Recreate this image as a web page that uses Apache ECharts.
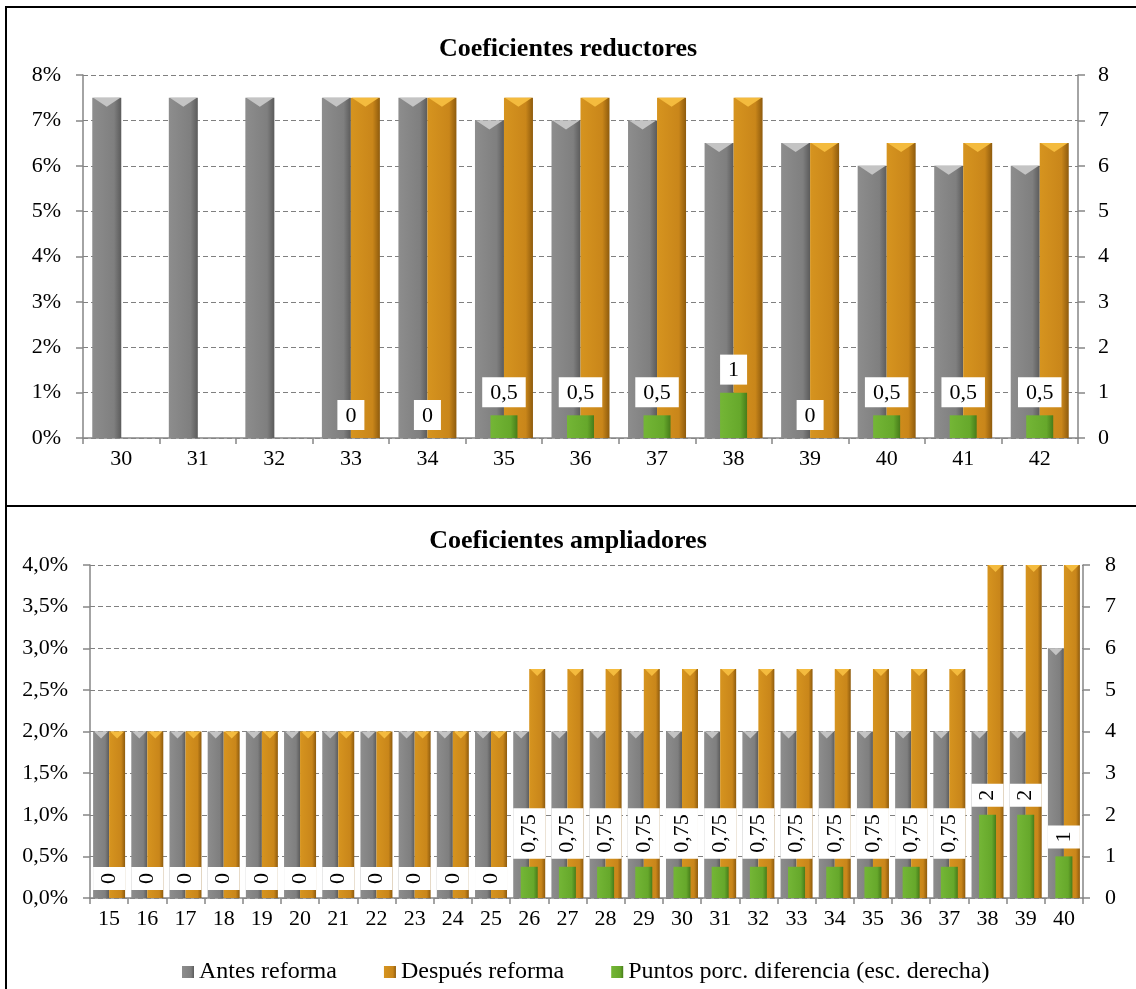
<!DOCTYPE html>
<html>
<head>
<meta charset="utf-8">
<script src="https://cdn.jsdelivr.net/npm/echarts@6/dist/echarts.min.js"></script>
<style>
  html, body { margin: 0; padding: 0; background: #fff; }
  #chart-root { width: 1136px; height: 989px; }
</style>
</head>
<body>
<div id="chart-root"></div>
<script>
// datos: coeficientes reductores (edad 30-42)
var redCats = ['30', '31', '32', '33', '34', '35', '36', '37', '38', '39', '40', '41', '42'];
var redAntes = [7.5, 7.5, 7.5, 7.5, 7.5, 7, 7, 7, 6.5, 6.5, 6, 6, 6];
var redDespues = [null, null, null, 7.5, 7.5, 7.5, 7.5, 7.5, 7.5, 6.5, 6.5, 6.5, 6.5];
var redDif = [null, null, null, 0, 0, 0.5, 0.5, 0.5, 1, 0, 0.5, 0.5, 0.5];

// datos: coeficientes ampliadores (15-40)
var ampCats = ['15', '16', '17', '18', '19', '20', '21', '22', '23', '24', '25', '26', '27',
  '28', '29', '30', '31', '32', '33', '34', '35', '36', '37', '38', '39', '40'];
var ampAntes = [2, 2, 2, 2, 2, 2, 2, 2, 2, 2, 2, 2, 2, 2, 2, 2, 2, 2, 2, 2, 2, 2, 2, 2, 2, 3];
var ampDespues = [2, 2, 2, 2, 2, 2, 2, 2, 2, 2, 2, 2.75, 2.75, 2.75, 2.75, 2.75, 2.75, 2.75,
  2.75, 2.75, 2.75, 2.75, 2.75, 4, 4, 4];
var ampDif = [0, 0, 0, 0, 0, 0, 0, 0, 0, 0, 0, 0.75, 0.75, 0.75, 0.75, 0.75, 0.75, 0.75,
  0.75, 0.75, 0.75, 0.75, 0.75, 2, 2, 1];

var legendNames = ['Antes reforma', 'Después reforma', 'Puntos porc. diferencia (esc. derecha)'];

var FONT = 'Liberation Serif';

function grad(c0, c1, c2) {
  return {
    type: 'linear', x: 0, y: 0, x2: 1, y2: 0,
    colorStops: [
      { offset: 0, color: c0 },
      { offset: 0.75, color: c1 },
      { offset: 1, color: c2 }
    ]
  };
}
var cGrey = grad('#8d8d8d', '#7f7f7f', '#5b5b5b');
var cOrange = grad('#d6941f', '#c9861a', '#8e5b0d');
var cGreen = grad('#74b636', '#66a82b', '#477c1a');

function coma(p) {
  return String(p.value).replace('.', ',');
}
// caps only where there is a bar
function caps(arr) {
  return arr.map(function (v) { return v ? v : null; });
}

var chart = echarts.init(document.getElementById('chart-root'));

var axisLineStyle = { color: '#868686', width: 1.5 };
var splitDash = { show: true, lineStyle: { color: '#808080', type: [5, 3], width: 1 } };
var labelStyle = { color: '#000', fontFamily: FONT, fontSize: 22 };

function catAxis(grid, data, show) {
  return {
    type: 'category', gridIndex: grid, data: data, show: show,
    axisLine: { lineStyle: axisLineStyle },
    axisTick: { show: true, length: 6, lineStyle: axisLineStyle },
    axisLabel: Object.assign({ margin: 10, interval: 0 }, labelStyle)
  };
}
function valAxis(grid, pos, max, interval, fmt, split, margin) {
  return {
    type: 'value', gridIndex: grid, position: pos, min: 0, max: max, interval: interval,
    axisLine: { show: true, lineStyle: axisLineStyle },
    axisTick: { show: true, length: 7, lineStyle: axisLineStyle },
    axisLabel: Object.assign({ formatter: fmt, margin: margin }, labelStyle),
    splitLine: split ? splitDash : { show: false }
  };
}

var topLabel = {
  show: true, position: 'top', distance: 8, formatter: coma,
  backgroundColor: '#fff', padding: [5, 8, 3, 8],
  color: '#000', fontFamily: FONT, fontSize: 22
};
var botLabel = {
  show: true, position: 'top', distance: 8, rotate: 90, align: 'left', verticalAlign: 'middle',
  formatter: coma, backgroundColor: '#fff', padding: [6, 6, 4, 6],
  color: '#000', fontFamily: FONT, fontSize: 22
};

function cap(name, x, y, data, w, h, color) {
  return {
    name: name + ' cap', type: 'pictorialBar', xAxisIndex: x, yAxisIndex: y,
    data: caps(data), symbol: 'path://M0,0 L10,0 L5,4 Z', symbolSize: [w - 2, h],
    symbolPosition: 'end', symbolOffset: [0, 0], barWidth: w, barGap: '0%',
    itemStyle: { color: color }, z: 3, silent: true
  };
}

var option = {
  animation: false,
  backgroundColor: '#fff',
  textStyle: { fontFamily: FONT },
  title: [
    { text: 'Coeficientes reductores', left: 'center', top: 31,
      textStyle: { fontFamily: FONT, fontSize: 26, fontWeight: 'bold', color: '#000' } },
    { text: 'Coeficientes ampliadores', left: 'center', top: 523,
      textStyle: { fontFamily: FONT, fontSize: 26, fontWeight: 'bold', color: '#000' } }
  ],
  legend: {
    data: legendNames, left: 177, top: 955, itemWidth: 12, itemHeight: 12, itemGap: 47,
    icon: 'rect', textStyle: { fontFamily: FONT, fontSize: 24, color: '#000' }
  },
  grid: [
    { left: 83, top: 75, width: 995, height: 363 },
    { left: 90, top: 565, width: 993, height: 333 }
  ],
  xAxis: [
    catAxis(0, redCats, true),
    catAxis(0, redCats, false),
    catAxis(1, ampCats, true),
    catAxis(1, ampCats, false)
  ],
  yAxis: [
    valAxis(0, 'left', 8, 1, '{value}%', true, 22),
    valAxis(0, 'right', 8, 1, '{value}', false, 20),
    valAxis(1, 'left', 4, 0.5, function (v) { return v.toFixed(1).replace('.', ',') + '%'; }, true, 22),
    valAxis(1, 'right', 8, 1, '{value}', false, 22)
  ],
  graphic: [
    { type: 'rect', shape: { x: 6, y: 7, width: 1200, height: 1100 },
      style: { fill: 'none', stroke: '#000', lineWidth: 2 }, silent: true },
    { type: 'line', shape: { x1: 6, y1: 506, x2: 1136, y2: 506 },
      style: { stroke: '#000', lineWidth: 2 }, silent: true }
  ],
  series: [
    // panel superior
    { name: legendNames[0], type: 'bar', xAxisIndex: 0, yAxisIndex: 0, data: redAntes,
      barWidth: 29, barGap: '0%', itemStyle: { color: cGrey } },
    { name: legendNames[1], type: 'bar', xAxisIndex: 0, yAxisIndex: 0, data: redDespues,
      barWidth: 29, barGap: '0%', itemStyle: { color: cOrange } },
    { name: legendNames[2], type: 'bar', xAxisIndex: 1, yAxisIndex: 1, data: redDif,
      barWidth: 27, itemStyle: { color: cGreen }, label: topLabel, z: 4 },
    cap('a', 0, 0, redAntes, 29, 9, '#c4c4c4'),
    cap('d', 0, 0, redDespues, 29, 9, '#f4bb3e'),
    // panel inferior
    { name: legendNames[0], type: 'bar', xAxisIndex: 2, yAxisIndex: 2, data: ampAntes,
      barWidth: 16, barGap: '0%', itemStyle: { color: cGrey } },
    { name: legendNames[1], type: 'bar', xAxisIndex: 2, yAxisIndex: 2, data: ampDespues,
      barWidth: 16, barGap: '0%', itemStyle: { color: cOrange } },
    { name: legendNames[2], type: 'bar', xAxisIndex: 3, yAxisIndex: 3, data: ampDif,
      barWidth: 17, itemStyle: { color: cGreen }, label: botLabel, z: 4 },
    cap('a2', 2, 2, ampAntes, 16, 7, '#c4c4c4'),
    cap('d2', 2, 2, ampDespues, 16, 7, '#f4bb3e')
  ]
};

chart.setOption(option);
</script>
</body>
</html>
